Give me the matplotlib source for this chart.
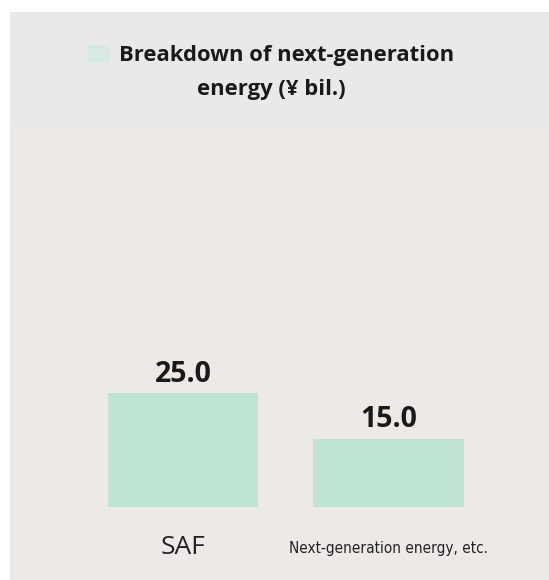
import matplotlib
matplotlib.use("Agg")
import matplotlib.pyplot as plt
from matplotlib.patches import Rectangle

categories = ["SAF", "Next-generation energy, etc."]
values = [25.0, 15.0]
value_labels = ["25.0", "15.0"]
title_lines = ["Breakdown of next-generation", "energy (¥ bil.)"]

W, H = 549, 580
fig = plt.figure(figsize=(W / 100, H / 100), dpi=100, facecolor="white")

# background panels
fig.patches.append(Rectangle((10 / W, 0), 1 - 10 / W, (H - 12) / H, transform=fig.transFigure,
                             facecolor="#ece9e6", edgecolor="none", zorder=-3))
fig.patches.append(Rectangle((10 / W, (H - 127) / H), 1 - 10 / W, (127 - 12) / H, transform=fig.transFigure,
                             facecolor="#e9e9e9", edgecolor="none", zorder=-2))
fig.patches.append(Rectangle((88 / W, (H - 63) / H), 22 / W, 18 / H, transform=fig.transFigure,
                             facecolor="#d8e9e1", edgecolor="none", zorder=-1))

fig.text(287 / W, (H - 56) / H, title_lines[0], ha="center", va="center", fontsize=15.8, fontweight="bold",
         family="Open Sans", color="#1a1a1a")
fig.text(271 / W, (H - 89) / H, title_lines[1], ha="center", va="center", fontsize=15.8, fontweight="bold",
         family="Open Sans", color="#1a1a1a")

ax = fig.add_axes([10 / W, 73 / H, 1 - 10 / W, (507 - 140) / H])
ax.set_facecolor("none")
ax.set_zorder(2)
xs = list(range(len(categories)))
bars = ax.bar(xs, values, width=0.73, color="#bfe5d2", edgecolor="none")
ax.set_xlim(-0.8418, 1.781)
ax.set_ylim(0, (507 - 140) / 4.56)
for b, lab in zip(bars, value_labels):
    ax.text(b.get_x() + b.get_width() / 2, b.get_height() + 0.9, lab, ha="center", va="bottom",
            fontsize=20.5, fontweight="bold", family="Open Sans", color="#1a1a1a")
ax.set_xticks(xs)
ax.set_xticklabels([])
ax.tick_params(length=0)
ax.set_yticks([])
for s in ax.spines.values():
    s.set_visible(False)

ax.text(xs[0], -8.8, categories[0], ha="center", va="center", fontsize=19, family="Open Sans", color="#222222")
ax.text(xs[1], -9, categories[1], ha="center", va="center", fontsize=11,
        family="DejaVu Sans", fontstretch="condensed", color="#222222")

fig.savefig("out.png", dpi=100, facecolor="white")
